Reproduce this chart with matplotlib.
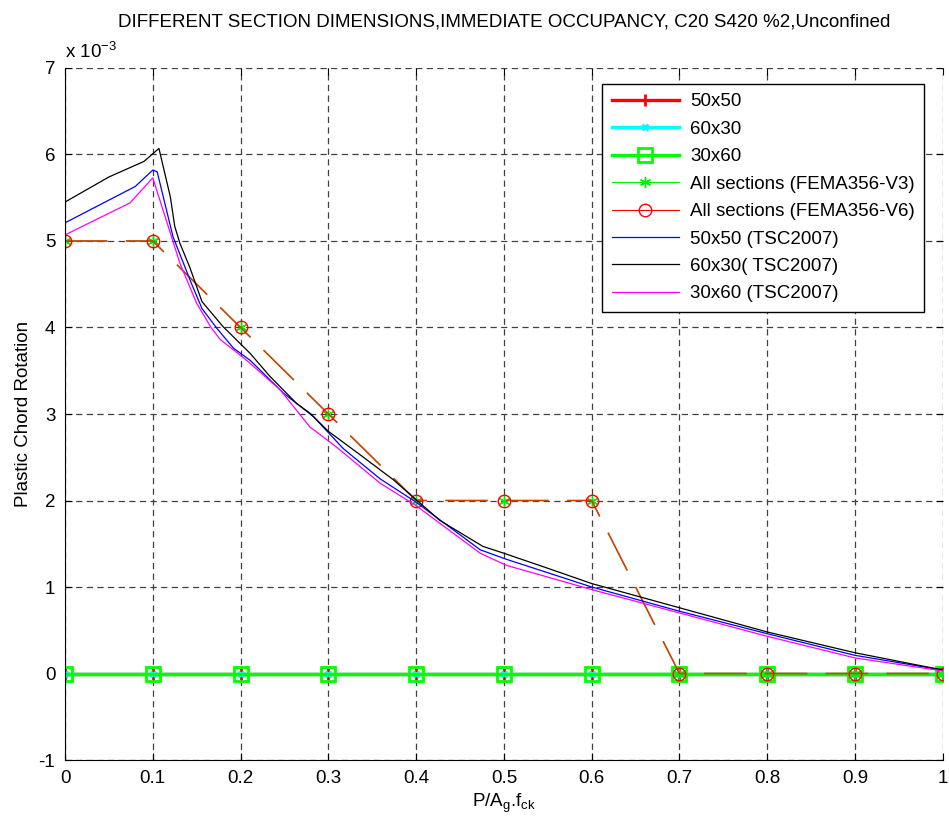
import matplotlib
matplotlib.use('Agg')
import matplotlib.pyplot as plt
from matplotlib.lines import Line2D

plt.rcParams['font.family'] = ['Liberation Sans', 'DejaVu Sans']
plt.rcParams['font.size'] = 13.5
plt.rcParams['axes.unicode_minus'] = False
plt.rcParams['mathtext.default'] = 'regular'

# axial load ratio P/(Ag.fck) at the FEMA / section points
ratio = [0, 0.1, 0.2, 0.3, 0.4, 0.5, 0.6, 0.7, 0.8, 0.9, 1.0]

# analysis results (all zero), units of 1e-3 rad
sec_50x50 = [0, 0, 0, 0, 0, 0, 0, 0, 0, 0, 0]
sec_60x30 = [0, 0, 0, 0, 0, 0, 0, 0, 0, 0, 0]
sec_30x60 = [0, 0, 0, 0, 0, 0, 0, 0, 0, 0, 0]

# FEMA356 limits
fema_v3 = [5, 5, 4, 3, 2, 2, 2, 0, 0, 0, 0]
fema_v6 = [5, 5, 4, 3, 2, 2, 2, 0, 0, 0, 0]

# TSC2007 curves
tsc_50x50_x = [0, 0.08, 0.1, 0.105, 0.123, 0.144, 0.156, 0.173, 0.192, 0.211, 0.226,
               0.249, 0.283, 0.317, 0.359, 0.4, 0.473, 0.503, 0.6, 0.7, 0.8, 0.9, 1.0]
tsc_50x50_y = [5.21, 5.63, 5.82, 5.80, 5.05, 4.51, 4.22, 3.99, 3.76, 3.62, 3.47,
               3.24, 2.97, 2.60, 2.25, 1.98, 1.43, 1.32, 1.00, 0.72, 0.46, 0.21, 0.04]

tsc_60x30_x = [0, 0.05, 0.09, 0.107, 0.12, 0.125, 0.131, 0.142, 0.156, 0.18, 0.197,
               0.211, 0.233, 0.264, 0.279, 0.3, 0.336, 0.374, 0.4, 0.427, 0.458,
               0.476, 0.5, 0.549, 0.6, 0.7, 0.8, 0.9, 1.0]
tsc_60x30_y = [5.45, 5.74, 5.92, 6.07, 5.51, 5.17, 4.97, 4.70, 4.30, 4.01, 3.84,
               3.70, 3.44, 3.12, 3.01, 2.80, 2.53, 2.24, 2.01, 1.77, 1.58,
               1.47, 1.39, 1.22, 1.04, 0.76, 0.48, 0.24, 0.04]

tsc_30x60_x = [0, 0.074, 0.1, 0.131, 0.15, 0.167, 0.177, 0.207, 0.245, 0.279, 0.309,
               0.359, 0.4, 0.473, 0.503, 0.6, 0.7, 0.8, 0.9, 1.0]
tsc_30x60_y = [5.07, 5.44, 5.73, 4.74, 4.28, 3.99, 3.86, 3.62, 3.28, 2.85, 2.62,
               2.20, 1.94, 1.39, 1.25, 0.97, 0.70, 0.43, 0.18, 0.03]

fig = plt.figure(figsize=(9.49, 8.22), dpi=100)
ax = fig.add_axes([0.0685, 0.0754, 0.925, 0.8419])

l1, = ax.plot(ratio, sec_50x50, color='red', lw=2.4, marker='+', ms=8, mew=2, label='50x50')
l2, = ax.plot(ratio, sec_60x30, color='cyan', lw=2.4, marker='x', ms=5, mew=2, label='60x30')
l3, = ax.plot(ratio, sec_30x60, color='#00ff00', lw=2.4, marker='s', ms=9.5, mew=2,
              mfc='none', label='30x60')

# both FEMA lines lie on top of each other, same dash so only the top one shows
ax.plot(ratio, fema_v3, color='#00c000', lw=0.6, linestyle=(0, (51, 22)),
        marker=(6, 2, 0), ms=8, mec='#00ee00', mew=1)
ax.plot(ratio, fema_v6, color='#cc4400', lw=1.2, linestyle=(0, (25.5, 11)),
        marker='o', ms=9, mec='red', mfc='none', mew=1)

l6, = ax.plot(tsc_50x50_x, tsc_50x50_y, color='blue', lw=0.9, label='50x50 (TSC2007)')
l7, = ax.plot(tsc_60x30_x, tsc_60x30_y, color='black', lw=0.9, label='60x30( TSC2007)')
l8, = ax.plot(tsc_30x60_x, tsc_30x60_y, color='magenta', lw=0.9, label='30x60 (TSC2007)')

p4 = Line2D([], [], color='#00ee00', lw=0.8, marker=(6, 2, 0), ms=8,
            label='All sections (FEMA356-V3)')
p5 = Line2D([], [], color='red', lw=0.8, marker='o', ms=9, mfc='none',
            label='All sections (FEMA356-V6)')

ax.set_xlim(0, 1)
ax.set_ylim(-1, 7)
ax.set_xticks([i / 10 for i in range(11)])
ax.set_xticklabels(['0', '0.1', '0.2', '0.3', '0.4', '0.5', '0.6', '0.7', '0.8', '0.9', '1'])
ax.set_yticks(range(-1, 8))
ax.grid(True, color='0.25', linestyle=(0, (5, 3.5)), lw=0.9)
ax.tick_params(direction='in', length=5, top=True, right=True, width=0.8, pad=7)
ax.spines['top'].set_visible(False)
ax.spines['right'].set_visible(False)

ax.text(0, 1.008, 'x 10$^{-3}$', transform=ax.transAxes, ha='left', va='bottom')
ax.set_title('DIFFERENT SECTION DIMENSIONS,IMMEDIATE OCCUPANCY, C20 S420 %2,Unconfined',
             fontsize=13.5, pad=30)
ax.set_xlabel('P/A$_g$.f$_{ck}$', labelpad=4)
ax.set_ylabel('Plastic Chord Rotation', labelpad=5)

leg = ax.legend(handles=[l1, l2, l3, p4, p5, l6, l7, l8], loc='upper right',
                bbox_to_anchor=(0.979, 0.977), borderaxespad=0, fancybox=False,
                edgecolor='black', framealpha=1, handlelength=3.6, labelspacing=0.55,
                borderpad=0.5, handletextpad=0.6)
leg.get_frame().set_linewidth(1)

fig.savefig('out.png', dpi=100)
